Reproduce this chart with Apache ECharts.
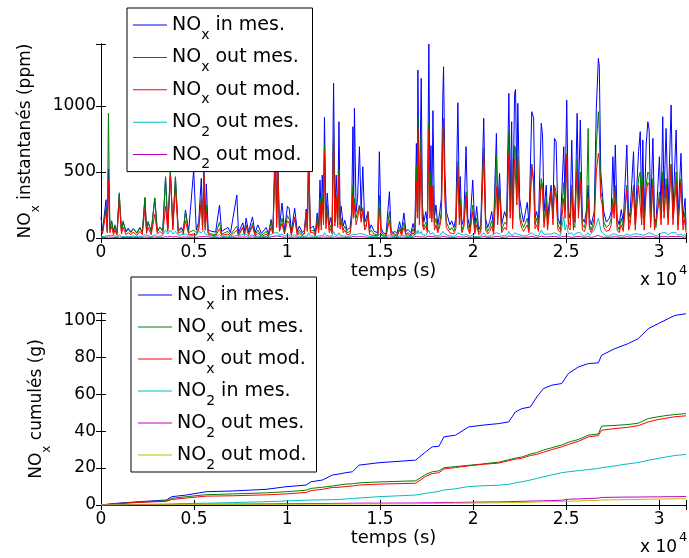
<!DOCTYPE html>
<html><head><meta charset="utf-8">
<script src="https://cdn.jsdelivr.net/npm/echarts@6/dist/echarts.min.js"></script>
<style>html,body{margin:0;padding:0;background:#fff}#c{width:689px;height:558px}</style>
</head><body><div id="c"></div>
<script>
// ===== Top chart: instantaneous NOx (ppm), time in units of 1e4 s =====
const tTop = [
0.000,0.008,0.027,0.034,0.040,0.048,0.057,0.067,0.075,0.086,
0.098,0.110,0.119,0.134,0.146,0.161,0.173,0.193,0.209,0.222,
0.236,0.245,0.253,0.270,0.289,0.303,0.316,0.332,0.347,0.359,
0.373,0.386,0.400,0.415,0.432,0.442,0.454,0.471,0.498,0.512,
0.525,0.539,0.546,0.553,0.560,0.566,0.576,0.595,0.616,0.637,
0.648,0.682,0.696,0.730,0.739,0.762,0.771,0.780,0.793,0.814,
0.828,0.843,0.862,0.888,0.900,0.914,0.924,0.937,0.944,0.950,
0.959,0.973,0.986,1.002,1.012,1.023,1.041,1.055,1.066,1.082,
1.093,1.103,1.109,1.116,1.125,1.141,1.152,1.162,1.170,1.177,
1.184,1.189,1.196,1.201,1.209,1.216,1.227,1.235,1.242,1.250,
1.257,1.264,1.272,1.279,1.285,1.291,1.302,1.310,1.323,1.339,
1.347,1.354,1.358,1.362,1.371,1.379,1.389,1.398,1.407,1.417,
1.425,1.435,1.443,1.452,1.468,1.478,1.488,1.496,1.505,1.516,
1.532,1.550,1.559,1.569,1.580,1.591,1.605,1.615,1.628,1.639,
1.650,1.666,1.677,1.687,1.695,1.700,1.703,1.711,1.721,1.727,
1.735,1.746,1.754,1.762,1.768,1.773,1.778,1.784,1.792,1.800,
1.810,1.821,1.829,1.837,1.841,1.848,1.856,1.864,1.875,1.885,
1.896,1.907,1.918,1.926,1.931,1.939,1.950,1.962,1.971,1.982,
1.998,2.009,2.019,2.030,2.041,2.057,2.067,2.078,2.089,2.100,
2.110,2.125,2.132,2.142,2.153,2.169,2.180,2.192,2.199,2.207,
2.212,2.223,2.228,2.235,2.240,2.250,2.260,2.271,2.291,2.300,
2.315,2.325,2.333,2.341,2.351,2.366,2.373,2.381,2.393,2.400,
2.419,2.429,2.437,2.446,2.456,2.469,2.487,2.494,2.503,2.512,
2.521,2.530,2.539,2.547,2.559,2.566,2.576,2.587,2.598,2.608,
2.618,2.625,2.635,2.651,2.662,2.673,2.678,2.686,2.694,2.702,
2.716,2.732,2.742,2.751,2.758,2.764,2.774,2.785,2.796,2.807,
2.826,2.836,2.844,2.862,2.871,2.889,2.898,2.906,2.912,2.919,
2.930,2.939,2.946,2.954,2.966,2.975,2.983,3.001,3.010,3.019,
3.026,3.037,3.048,3.064,3.074,3.091,3.101,3.117,3.128,3.139,
3.144];
const noxInTop = [
160,50,290,60,520,70,130,50,90,40,
330,60,120,50,75,45,70,40,80,45,
300,60,120,50,300,50,80,60,460,80,
500,90,460,60,80,50,212,50,515,60,
120,452,100,515,120,410,60,50,45,250,
50,80,40,326,40,115,50,150,45,160,
40,100,35,80,30,140,60,780,150,640,
80,265,60,240,220,50,225,50,90,40,
60,220,80,680,70,90,40,190,80,440,
150,477,200,914,150,340,100,155,80,1172,
200,477,150,881,150,240,90,135,60,80,
200,843,300,982,200,300,692,200,540,120,
150,200,60,100,50,60,40,654,80,40,
30,351,60,40,50,35,124,50,190,50,
65,40,110,50,717,300,1273,200,1210,250,
120,200,100,1470,300,700,200,965,150,250,
100,200,300,1070,1298,520,200,190,100,130,
80,150,1025,250,465,100,150,692,150,80,
440,80,240,60,100,907,150,80,124,200,
80,793,200,490,100,200,150,1096,300,881,
150,1096,1126,400,1020,300,200,120,270,100,
957,910,150,200,120,869,780,200,400,150,
400,200,755,730,150,100,692,300,1045,200,
150,740,150,120,944,300,894,150,120,200,
400,150,100,200,983,1361,1300,500,503,200,
120,150,200,616,300,705,150,100,215,120,
705,150,200,654,150,654,806,200,743,150,
705,881,818,200,755,150,120,616,200,919,
300,830,200,1008,200,818,150,641,150,300,
100];
const noxOutMesTop = [
60,40,230,50,945,60,130,40,100,35,
343,50,130,45,65,40,70,35,75,40,
308,55,125,45,305,45,80,50,465,70,
515,80,465,50,70,45,200,40,60,40,
80,300,80,480,80,250,40,30,25,120,
30,50,25,90,25,80,30,100,30,110,
25,60,20,50,20,125,40,600,100,500,
60,150,40,170,140,30,160,30,60,25,
40,190,60,600,50,60,25,150,60,300,
100,320,150,700,110,250,60,100,50,850,
120,320,100,520,100,150,60,90,40,50,
150,400,200,300,150,200,250,150,230,80,
100,180,40,60,30,40,25,325,50,25,
20,200,40,25,30,20,80,30,120,30,
40,25,70,30,550,200,920,150,793,150,
80,120,60,870,200,500,150,400,100,150,
60,120,200,800,880,350,120,120,60,80,
50,100,580,150,300,60,100,350,100,50,
250,50,150,40,60,680,100,50,80,130,
50,629,150,400,60,120,100,805,200,600,
100,700,680,300,620,200,120,80,150,60,
560,450,100,150,80,450,400,120,300,100,
360,150,400,350,100,60,420,200,640,120,
100,400,100,80,600,200,500,100,80,150,
830,100,60,150,700,957,800,350,300,120,
80,100,150,300,200,400,100,60,150,80,
400,100,150,400,100,450,500,150,450,100,
400,500,480,120,450,100,80,350,150,500,
200,450,150,560,150,500,100,450,100,200,
60];
const noxOutModTop = [
60,30,200,40,440,40,90,25,60,20,
288,30,80,25,40,25,45,20,50,25,
220,35,80,25,180,30,50,30,240,50,
477,60,380,35,50,30,130,25,30,25,
60,288,60,477,60,200,30,20,15,70,
20,30,15,60,15,80,20,90,20,90,
15,40,10,30,10,80,30,720,80,560,
50,110,30,130,110,20,150,20,40,15,
30,200,50,620,40,40,15,120,40,260,
60,280,100,654,70,200,40,70,30,780,
90,300,80,477,70,120,40,60,25,30,
130,326,150,252,100,150,240,120,210,60,
80,200,25,40,20,25,15,227,30,15,
10,135,25,15,20,10,60,20,80,20,
25,15,40,20,427,150,830,100,667,100,
60,90,40,818,150,400,120,389,60,100,
40,90,150,700,907,300,80,80,40,50,
30,70,540,100,250,40,80,325,70,30,
200,30,100,25,40,641,60,30,50,90,
30,389,100,350,40,80,60,641,150,500,
70,600,591,250,580,150,80,50,100,40,
553,400,70,100,50,414,350,80,250,60,
350,100,375,300,60,40,300,150,628,80,
60,390,60,50,500,150,440,60,50,100,
300,70,40,100,500,641,600,300,250,80,
50,60,100,250,150,350,60,40,100,50,
364,60,100,380,60,400,390,100,400,60,
350,420,400,80,400,60,50,300,100,420,
150,380,100,553,100,420,60,420,60,150,
40];
const no2OutMesTop = [
10,8,15,10,20,15,20,10,15,8,
25,12,20,10,12,10,15,10,15,10,
25,12,20,10,25,12,15,20,60,30,
60,30,50,20,25,15,30,15,20,20,
50,40,30,60,30,40,20,15,10,25,
12,15,10,20,10,25,12,30,12,25,
10,15,8,12,8,30,15,40,30,40,
20,30,15,30,25,12,25,12,15,10,
12,25,15,40,15,15,10,25,15,30,
20,30,20,40,20,30,15,20,15,50,
25,30,20,40,20,25,15,20,12,15,
25,30,25,40,25,25,35,25,30,20,
20,25,12,15,10,12,10,30,15,10,
8,25,12,10,10,8,15,10,20,10,
12,10,15,12,50,30,60,30,50,25,
20,20,15,60,30,40,25,40,20,20,
15,20,25,50,50,30,25,20,15,15,
12,20,40,25,30,15,20,30,20,12,
25,12,20,12,15,40,20,12,15,20,
12,40,25,30,15,20,20,50,30,40,
20,40,50,30,40,25,20,15,20,15,
40,40,20,20,15,60,50,25,30,20,
30,25,40,40,25,20,160,60,100,30,
20,40,20,15,40,25,40,20,15,30,
40,20,30,60,100,150,120,60,40,25,
15,15,20,30,25,30,20,15,20,15,
30,20,20,30,20,30,40,25,30,20,
30,40,40,25,30,20,15,30,20,40,
25,40,25,40,25,40,20,30,20,25,
15];
const no2OutModTop = [
5,3,5,4,8,5,6,4,5,3,
8,4,6,4,5,4,5,4,6,4,
8,5,6,4,8,5,6,5,10,8,
12,8,10,6,6,5,8,5,6,5,
8,10,8,12,8,10,6,5,4,6,
4,5,4,6,4,8,5,8,5,8,
4,6,3,5,3,8,5,15,10,15,
6,8,5,8,8,4,8,4,5,4,
5,8,5,12,5,5,4,8,5,10,
6,10,8,15,6,10,5,6,5,15,
8,10,6,12,6,8,5,6,4,5,
8,12,10,15,8,8,10,8,10,6,
6,8,4,5,4,5,4,10,5,4,
3,8,4,4,4,3,5,4,6,4,
5,4,5,4,12,8,15,8,15,8,
6,6,5,15,8,10,8,10,6,6,
5,6,8,12,15,10,8,6,5,5,
4,6,10,8,8,5,6,10,6,4,
8,4,6,4,5,12,6,4,5,6,
4,12,8,10,5,6,6,15,8,12,
6,12,15,10,12,8,6,5,6,5,
12,12,6,6,5,15,12,8,8,6,
10,8,12,12,8,6,12,8,15,8,
6,12,6,5,12,8,12,6,5,8,
10,6,5,8,15,20,15,10,8,6,
5,5,6,8,8,10,6,5,6,5,
10,6,6,10,6,10,12,8,10,6,
10,12,10,8,10,6,5,8,6,10,
8,10,8,12,8,10,6,10,6,8,
5];

// ===== Bottom chart: cumulative NOx (g) =====
const tBot = [0,0.084,0.209,0.352,0.380,0.459,0.566,0.707,0.888,0.995,
1.102,1.129,1.189,1.243,1.280,1.316,1.351,1.387,1.494,1.691,
1.745,1.780,1.816,1.843,1.905,1.976,2.048,2.137,2.191,2.227,
2.262,2.307,2.342,2.378,2.423,2.476,2.512,2.566,2.619,2.673,
2.690,2.762,2.833,2.887,2.941,2.994,3.048,3.084,3.144];
const noxInCum = [0,0.9,1.8,2.7,4.5,5.4,7.2,7.6,8.5,9.9,
10.8,12.6,13.5,16.2,16.8,17.5,18.0,21.6,22.9,24.3,
28.8,31.5,31.8,36.9,37.8,42.3,43.2,44.1,45.0,50.4,
52.2,53.1,58.5,63.1,64.9,65.8,71.2,74.8,76.6,77.0,
81.1,84.7,87.4,90.1,95.5,98.2,100.9,102.7,103.6];
const noxOutMesCum = [0,0.8,1.6,2.3,3.6,4.5,5.6,6.0,6.6,7.2,
8.0,9.0,9.6,10.3,10.8,11.3,11.5,12.0,12.5,13.1,
16.5,18.0,18.5,20.2,20.8,21.5,22.2,23.2,24.5,25.4,
26.0,27.6,28.4,29.8,31.0,32.5,34.0,35.5,37.8,38.5,
42.7,43.1,43.6,44.3,46.8,47.8,48.6,49.0,49.5];
const noxOutModCum = [0,0.7,1.4,2.0,3.0,3.8,4.8,5.0,5.5,6.0,
6.8,7.8,8.5,9.5,9.6,10.0,10.3,10.8,11.3,11.8,
15.5,17.0,17.5,19.5,20.3,21.2,22.0,22.7,24.0,24.8,
25.3,26.8,27.4,28.6,30.0,31.5,32.8,34.5,36.9,37.6,
40.5,41.4,42.1,43.0,45.0,46.3,47.2,47.8,48.3];
const no2InMesCum = [0,0.1,0.3,0.5,0.6,0.8,1.0,1.3,1.8,2.2,
2.6,2.7,2.8,2.9,3.0,3.3,3.5,3.8,4.5,5.4,
6.3,6.8,7.4,8.1,8.8,10.0,10.4,10.7,11.2,12.0,
12.6,13.5,14.4,15.3,16.3,17.5,18.0,18.6,19.2,19.8,
20.2,21.2,22.3,23.0,24.2,25.2,26.2,26.8,27.4];
const no2OutMesCum = [0,0.1,0.2,0.3,0.3,0.35,0.4,0.5,0.6,0.7,
0.75,0.8,0.8,0.85,0.9,0.9,0.95,1.0,1.0,1.1,
1.2,1.2,1.3,1.4,1.4,1.5,1.6,1.7,1.8,1.9,
2.0,2.1,2.2,2.3,2.4,2.6,3.1,3.3,3.5,3.7,
4.1,4.2,4.3,4.3,4.4,4.4,4.5,4.5,4.6];
const no2OutModCum = [0,0.05,0.1,0.2,0.2,0.25,0.3,0.3,0.35,0.4,
0.4,0.45,0.45,0.5,0.5,0.5,0.55,0.6,0.6,0.7,
0.8,0.8,0.85,0.9,0.95,1.0,1.1,1.2,1.3,1.35,
1.4,1.5,1.6,1.7,1.8,1.9,2.0,2.2,2.4,2.5,
2.7,2.8,2.9,3.0,3.1,3.2,3.3,3.35,3.4];

const xTicks = [0, 0.5, 1, 1.5, 2, 2.5, 3];
const topYTicks = [0, 500, 1000];
const botYTicks = [0, 20, 40, 60, 80, 100];
const topNames = ['NOx in mes.', 'NOx out mes.', 'NOx out mod.', 'NO2 out mes.', 'NO2 out mod.'];
const botNames = ['NOx in mes.', 'NOx out mes.', 'NOx out mod.', 'NO2 in mes.', 'NO2 out mes.', 'NO2 out mod.'];

const FONT = 'DejaVu Sans';
const BLUE = '#0000ff', GREEN = '#008000', RED = '#ff0000', CYAN = '#00bfbf', MAG = '#bf00bf', YEL = '#bfbf00';
const topColors = [BLUE, GREEN, RED, CYAN, MAG];
const botColors = [BLUE, GREEN, RED, CYAN, MAG, YEL];
const topData = [noxInTop, noxOutMesTop, noxOutModTop, no2OutMesTop, no2OutModTop];
const botData = [noxInCum, noxOutMesCum, noxOutModCum, no2InMesCum, no2OutMesCum, no2OutModCum];

const pairs = (t, v) => t.map((x, i) => [x, v[i]]);
const X_MAX = 3.144;

const subRich = (size, subSize, pad) => ({
  m: { fontSize: size, fontFamily: FONT, color: '#000', lineHeight: 22 },
  s: { fontSize: subSize, fontFamily: FONT, color: '#000', lineHeight: 22, padding: [pad, 0, 0, 0] }
});
const richLabel = (name) => {
  const key = name.replace(/\u200b+$/, '');
  const m = key.match(/^NO(x|2)(.*)$/);
  return '{m|NO}{s|' + m[1] + '}{m|' + m[2] + '}';
};

const labelStyle = { fontSize: 17, fontFamily: FONT, color: '#000' };
function xAxes(gridIndex) {
  const base = {
    type: 'value', gridIndex, min: 0, max: X_MAX, interval: 0.5,
    axisLine: { show: true, lineStyle: { color: '#000', width: 1 } },
    axisTick: { show: true, inside: true, length: 5, lineStyle: { color: '#000' } },
    splitLine: { show: false }
  };
  return [
    Object.assign({}, base, {
      position: 'bottom',
      axisLabel: Object.assign({ margin: 6, formatter: v => xTicks.includes(Math.round(v * 1000) / 1000) ? String(v) : '' }, labelStyle),
      name: 'temps (s)', nameLocation: 'middle', nameGap: 23,
      nameTextStyle: { fontSize: 18, fontFamily: FONT, color: '#000' }
    }),
    Object.assign({}, base, { position: 'top', axisLabel: { show: false } })
  ];
}
function yAxes(gridIndex, max, interval, ticks, nameRich, nameGap) {
  const base = {
    type: 'value', gridIndex, min: 0, max, interval,
    axisLine: { show: true, lineStyle: { color: '#000', width: 1 } },
    axisTick: { show: true, inside: true, length: 5, lineStyle: { color: '#000' } },
    splitLine: { show: false }
  };
  return [
    Object.assign({}, base, {
      position: 'left',
      axisLabel: Object.assign({ margin: 5, formatter: v => ticks.includes(v) ? String(v) : '' }, labelStyle),
      name: nameRich, nameLocation: 'middle', nameRotate: 90, nameGap,
      nameTextStyle: { rich: subRich(17, 12, 20) }
    }),
    Object.assign({}, base, { position: 'right', axisLabel: { show: false } })
  ];
}

const series = [];
topNames.forEach((n, i) => series.push({
  name: n, type: 'line', xAxisIndex: 0, yAxisIndex: 0, data: pairs(tTop, topData[i]),
  symbol: 'none', showSymbol: false, smooth: false,
  lineStyle: { width: 1, color: topColors[i], join: 'miter' }, itemStyle: { color: topColors[i] },
  silent: true, animation: false
}));
const botSeriesNames = botNames.map(n => n + '\u200b');
botNames.forEach((n, i) => series.push({
  name: botSeriesNames[i], type: 'line', xAxisIndex: 2, yAxisIndex: 2, data: pairs(tBot, botData[i]),
  symbol: 'none', showSymbol: false, smooth: false,
  lineStyle: { width: 1, color: botColors[i] }, itemStyle: { color: botColors[i] },
  silent: true, animation: false
}));

const legendBase = {
  orient: 'vertical', itemWidth: 34, itemHeight: 1, icon: 'rect', selectedMode: false,
  backgroundColor: '#fff', borderColor: '#000', borderWidth: 1, borderRadius: 0,
  formatter: richLabel, textStyle: { rich: subRich(19, 14, 20) }, z: 10
};

const option = {
  animation: false,
  backgroundColor: '#fff',
  grid: [
    { left: 101, top: 44, width: 587, height: 194, containLabel: false },
    { left: 101, top: 313, width: 587, height: 192, containLabel: false }
  ],
  xAxis: [...xAxes(0), ...xAxes(1)],
  yAxis: [
    ...yAxes(0, 1470, 500, topYTicks, '{m|NO}{s|x}{m| instantanés (ppm)}', 55),
    ...yAxes(1, 104, 20, botYTicks, '{m|NO}{s|x}{m| cumulés (g)}', 52)
  ],
  legend: [
    Object.assign({}, legendBase, { left: 127, top: 8, itemGap: -1.6, padding: [0, 11, 0, 6], data: topNames }),
    Object.assign({}, legendBase, { left: 131, top: 277, itemGap: -2, padding: [1, 10, 0, 7], data: botSeriesNames })
  ],
  series,
  graphic: [
    { type: 'text', x: 640, y: 281, style: { text: 'x 10', fontSize: 17, fontFamily: FONT, fill: '#000', verticalAlign: 'middle' } },
    { type: 'text', x: 679, y: 271, style: { text: '4', fontSize: 13, fontFamily: FONT, fill: '#000', verticalAlign: 'middle' } },
    { type: 'text', x: 640, y: 548, style: { text: 'x 10', fontSize: 17, fontFamily: FONT, fill: '#000', verticalAlign: 'middle' } },
    { type: 'text', x: 679, y: 538, style: { text: '4', fontSize: 13, fontFamily: FONT, fill: '#000', verticalAlign: 'middle' } }
  ]
};
const chart = echarts.init(document.getElementById('c'), null, { renderer: 'canvas' });
chart.setOption(option);
</script>
</body></html>
